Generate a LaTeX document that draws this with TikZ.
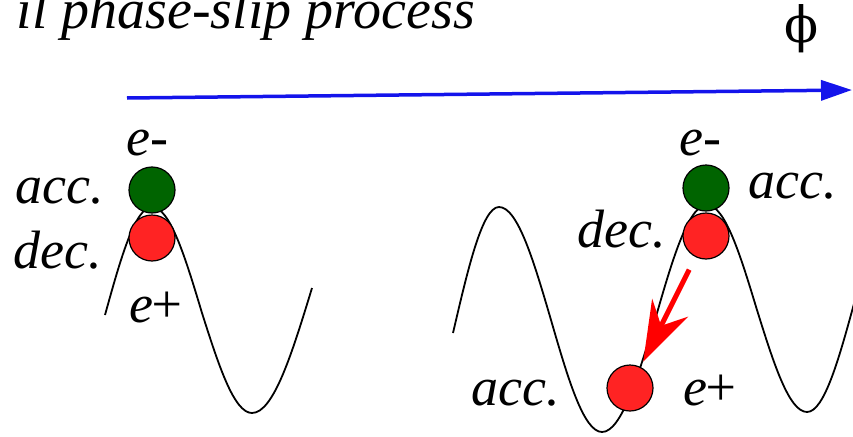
\documentclass[tikz,border=0pt]{standalone}
\usepackage{fontspec}
\setmainfont{Liberation Serif}
\newfontfamily\phifont{DejaVu Serif}
\usetikzlibrary{arrows.meta}
\definecolor{accgreen}{RGB}{0,100,0}
\definecolor{decred}{RGB}{255,35,35}
\definecolor{phiblue}{RGB}{20,20,235}
\tikzstyle{lbl}=[font=\fontsize{54}{60}\selectfont\itshape, anchor=base, inner sep=0pt]
\tikzstyle{ball}=[circle, draw=black, line width=1.2pt, minimum size=46pt, inner sep=0pt]
\tikzstyle{wave}=[line width=1.8pt]

\begin{document}
\begin{tikzpicture}[x=1pt, y=-1pt]
	\useasboundingbox (0,0) rectangle (853,436);
	\clip (0,0) rectangle (853,436);
	\node[lbl, anchor=base east, font=\fontsize{56}{62}\selectfont\itshape] (title) at (475,29) {il phase-slip process};
	\node[anchor=base, inner sep=0pt, font=\fontsize{50}{56}\selectfont\phifont] (phi) at (802,43) {ϕ};
	\coordinate (phistart) at (127,98);
	\coordinate (phiend) at (852,90);
	\draw[phiblue, line width=3.5pt, -{Triangle[length=31pt,width=20pt]}] (phistart) -- (phiend);
	% left well
	\draw[wave] (105,315) sin (152,207) cos (202,313) sin (252,413) cos (312,288);
	% right wells
	\draw[wave] (453,333) sin (499,207) cos (551,320) sin (602,432) cos (655,320) sin (707,205) cos (757,310) sin (807,412) cos (855,300);
	\node[ball, fill=accgreen] (gl) at (152,190) {};
	\node[ball, fill=decred] (rl) at (152,238) {};
	\node[ball, fill=accgreen] (gr) at (706,188) {};
	\node[ball, fill=decred] (rr) at (706,236) {};
	\node[ball, fill=decred] (rb) at (630,388) {};
	\draw[red, line width=5pt, -{Stealth[length=60pt,width=40pt,inset=20pt]}, shorten <=14pt, shorten >=6pt] (rr) -- (rb);
	\node[lbl] (emL) at (147,155) {e-};
	\node[lbl] (accL) at (60,203) {acc.};
	\node[lbl] (decL) at (58,268) {dec.};
	\node[lbl] (epL) at (157,322) {e\kern-5pt+};
	\node[lbl] (emR) at (700,155) {e-};
	\node[lbl] (accR) at (793,198) {acc.};
	\node[lbl] (decR) at (622,247) {dec.};
	\node[lbl] (accB) at (516,405) {acc.};
	\node[lbl] (epB) at (711,405) {e\kern-5pt+};
\end{tikzpicture}
\end{document}
